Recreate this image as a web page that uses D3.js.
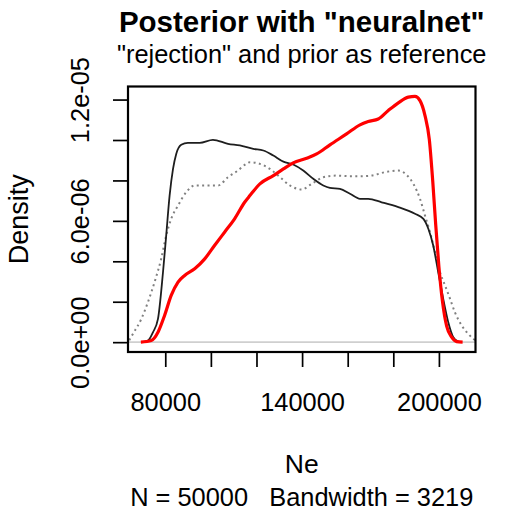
<!DOCTYPE html>
<html>
<head>
<meta charset="utf-8">
<script src="https://cdn.jsdelivr.net/npm/d3@7"></script>
<style>
  html, body { margin: 0; padding: 0; background: #fff; }
  svg { display: block; font-family: "Liberation Sans", Arial, Helvetica, sans-serif; }
</style>
</head>
<body>
<svg id="chart" width="508" height="512"></svg>
<script>
// ---- Data ----
// "neuralnet" posterior (red)
const nnNe = [69300, 73900, 76800, 79700, 82600, 85600, 88500, 92900, 97300, 101600, 106000, 110400,
  114800, 117100, 121500, 127400, 131800, 136100, 142000, 146400, 152200, 159500, 165400, 169000,
  173400, 177800, 182200, 186600, 189500, 191700, 193900, 195800, 197300, 198600, 200000, 201600,
  203400, 205600, 207800, 210400];
const nnDensity = [0, 0.08e-6, 0.49e-6, 1.32e-6, 2.31e-6, 2.97e-6, 3.30e-6, 3.63e-6, 4.12e-6, 4.78e-6,
  5.44e-6, 6.10e-6, 6.92e-6, 7.25e-6, 7.83e-6, 8.24e-6, 8.57e-6, 8.87e-6, 9.10e-6, 9.31e-6, 9.76e-6,
  10.30e-6, 10.75e-6, 10.91e-6, 11.04e-6, 11.46e-6, 11.84e-6, 12.12e-6, 12.16e-6, 11.95e-6, 11.21e-6,
  10.02e-6, 7.95e-6, 5.80e-6, 3.73e-6, 1.98e-6, 0.79e-6, 0.25e-6, 0.03e-6, 0];

// "rejection" posterior (black)
const rejNe = [69500, 72400, 74600, 76800, 79000, 80400, 81900, 83400, 84800, 87000, 89900, 95100,
  100900, 107500, 112700, 118600, 123000, 127400, 131800, 136100, 140500, 144900, 149300, 152200,
  156600, 161000, 165400, 169000, 174900, 182200, 189500, 193200, 195400, 197500, 199700, 201900,
  204100, 206300, 208500, 210000];
const rejDensity = [0, 0.08e-6, 0.49e-6, 1.15e-6, 3.46e-6, 5.27e-6, 7.25e-6, 8.57e-6, 9.31e-6, 9.76e-6,
  9.86e-6, 9.86e-6, 10.01e-6, 9.81e-6, 9.73e-6, 9.56e-6, 9.48e-6, 9.23e-6, 8.93e-6, 8.79e-6, 8.49e-6,
  8.08e-6, 7.75e-6, 7.63e-6, 7.58e-6, 7.34e-6, 7.09e-6, 7.09e-6, 6.92e-6, 6.68e-6, 6.35e-6, 6.10e-6,
  5.60e-6, 4.78e-6, 3.46e-6, 2.14e-6, 0.99e-6, 0.25e-6, 0.03e-6, 0];

// prior (dotted grey)
const priorNe = [64200, 65800, 69500, 72400, 75300, 78200, 80400, 82600, 85600, 89200, 92900, 98700,
  103100, 107500, 111900, 115500, 117100, 121500, 125900, 130300, 134700, 139800, 144200, 149300,
  155100, 161000, 165400, 170500, 176300, 182200, 185800, 188800, 191700, 193900, 196100, 198300,
  200500, 202700, 204900, 207000, 210000, 212900, 215100, 217300];
const priorDensity = [0.10e-6, 0.41e-6, 1.15e-6, 1.98e-6, 2.97e-6, 4.12e-6, 5.27e-6, 6.10e-6, 6.76e-6,
  7.42e-6, 7.75e-6, 7.75e-6, 7.75e-6, 8.16e-6, 8.49e-6, 8.82e-6, 8.90e-6, 8.82e-6, 8.57e-6, 8.16e-6,
  7.75e-6, 7.55e-6, 7.83e-6, 8.16e-6, 8.24e-6, 8.21e-6, 8.21e-6, 8.24e-6, 8.41e-6, 8.49e-6, 8.28e-6,
  7.83e-6, 7.09e-6, 6.26e-6, 5.44e-6, 4.45e-6, 3.46e-6, 2.80e-6, 2.14e-6, 1.48e-6, 0.82e-6, 0.41e-6,
  0.16e-6, 0.03e-6];

// Axis ticks and labels
const xTicks = [80000, 100000, 120000, 140000, 160000, 180000, 200000];
const xTickLabels = { 80000: "80000", 140000: "140000", 200000: "200000" };
const yTicks = [0, 2e-6, 4e-6, 6e-6, 8e-6, 10e-6, 12e-6];
const yTickLabels = { 0: "0.0e+00", 6e-6: "6.0e-06", 12e-6: "1.2e-05" };

const titleText = 'Posterior with "neuralnet"';
const subtitleText = '"rejection" and prior as reference';
const xLabel = "Ne";
const yLabel = "Density";
const subLabel = "N = 50000   Bandwidth = 3219";

// ---- Layout ----
const box = { left: 128, right: 475.5, top: 86.5, bottom: 352 };
const svg = d3.select("#chart");

// R-style 4% padding around the main ("neuralnet") density range
const [xmin, xmax] = d3.extent(nnNe);
const ymax = d3.max(nnDensity);
const xr = xmax - xmin;
const x = d3.scaleLinear().domain([xmin - 0.04 * xr, xmax + 0.04 * xr]).range([box.left, box.right]);
const y = d3.scaleLinear().domain([-0.04 * ymax, ymax * 1.04]).range([box.bottom, box.top]);

svg.append("defs").append("clipPath").attr("id", "plotclip")
  .append("rect")
  .attr("x", box.left).attr("y", box.top)
  .attr("width", box.right - box.left).attr("height", box.bottom - box.top);

const plot = svg.append("g").attr("clip-path", "url(#plotclip)");

// zero line
plot.append("line")
  .attr("x1", box.left).attr("x2", box.right)
  .attr("y1", y(0)).attr("y2", y(0))
  .attr("stroke", "#cfcfcf").attr("stroke-width", 1.8);

const line = d3.line().x(d => x(d[0])).y(d => y(d[1])).curve(d3.curveMonotoneX);

plot.append("path")
  .datum(priorNe.map((v, i) => [v, priorDensity[i]]))
  .attr("d", line).attr("fill", "none")
  .attr("stroke", "#808080").attr("stroke-width", 2)
  .attr("stroke-dasharray", "2 3.4");

plot.append("path")
  .datum(rejNe.map((v, i) => [v, rejDensity[i]]))
  .attr("d", line).attr("fill", "none")
  .attr("stroke", "#1e1e1e").attr("stroke-width", 1.8);

plot.append("path")
  .datum(nnNe.map((v, i) => [v, nnDensity[i]]))
  .attr("d", line).attr("fill", "none")
  .attr("stroke", "#ff0000").attr("stroke-width", 3.2);

// box
svg.append("rect")
  .attr("x", box.left).attr("y", box.top)
  .attr("width", box.right - box.left).attr("height", box.bottom - box.top)
  .attr("fill", "none").attr("stroke", "#000").attr("stroke-width", 2.2);

// x axis
const xAxis = d3.axisBottom(x).tickValues(xTicks)
  .tickFormat(d => xTickLabels[d] || "")
  .tickSize(15).tickSizeOuter(0).tickPadding(25.5);
const gx = svg.append("g").attr("transform", `translate(0,${box.bottom})`).call(xAxis);
gx.select(".domain").remove();
gx.selectAll(".tick line").attr("stroke", "#000").attr("stroke-width", 1.7);
gx.selectAll(".tick text").attr("fill", "#000").attr("font-size", 25.4)
  .attr("font-family", '"Liberation Sans", Arial, sans-serif');

// y axis
const yAxis = d3.axisLeft(y).tickValues(yTicks)
  .tickFormat(d => {
    const k = yTicks.find(t => Math.abs(t - d) < 1e-12);
    return yTickLabels[k] || "";
  })
  .tickSize(15).tickSizeOuter(0);
const gy = svg.append("g").attr("transform", `translate(${box.left},0)`).call(yAxis);
gy.select(".domain").remove();
gy.selectAll(".tick line").attr("stroke", "#000").attr("stroke-width", 1.7);
gy.selectAll(".tick text")
  .attr("x", null).attr("dy", null)
  .attr("transform", `translate(${89.3 - box.left},0) rotate(-90)`)
  .attr("text-anchor", "middle")
  .attr("fill", "#000").attr("font-size", 25.4)
  .attr("font-family", '"Liberation Sans", Arial, sans-serif');

// titles
const cx = (box.left + box.right) / 2;
svg.append("text").attr("x", cx).attr("y", 31.7).attr("text-anchor", "middle")
  .attr("font-size", 29.5).attr("font-weight", "bold").text(titleText);
svg.append("text").attr("x", cx).attr("y", 63.3).attr("text-anchor", "middle")
  .attr("font-size", 25.4).text(subtitleText);
svg.append("text").attr("x", cx).attr("y", 473).attr("text-anchor", "middle")
  .attr("font-size", 26.5).text(xLabel);
svg.append("text").attr("x", cx).attr("y", 506).attr("text-anchor", "middle")
  .attr("font-size", 25.4).style("white-space", "pre").text(subLabel);
svg.append("text")
  .attr("transform", `translate(27.7,${(box.top + box.bottom) / 2}) rotate(-90)`)
  .attr("text-anchor", "middle").attr("font-size", 27).text(yLabel);
</script>
</body>
</html>
